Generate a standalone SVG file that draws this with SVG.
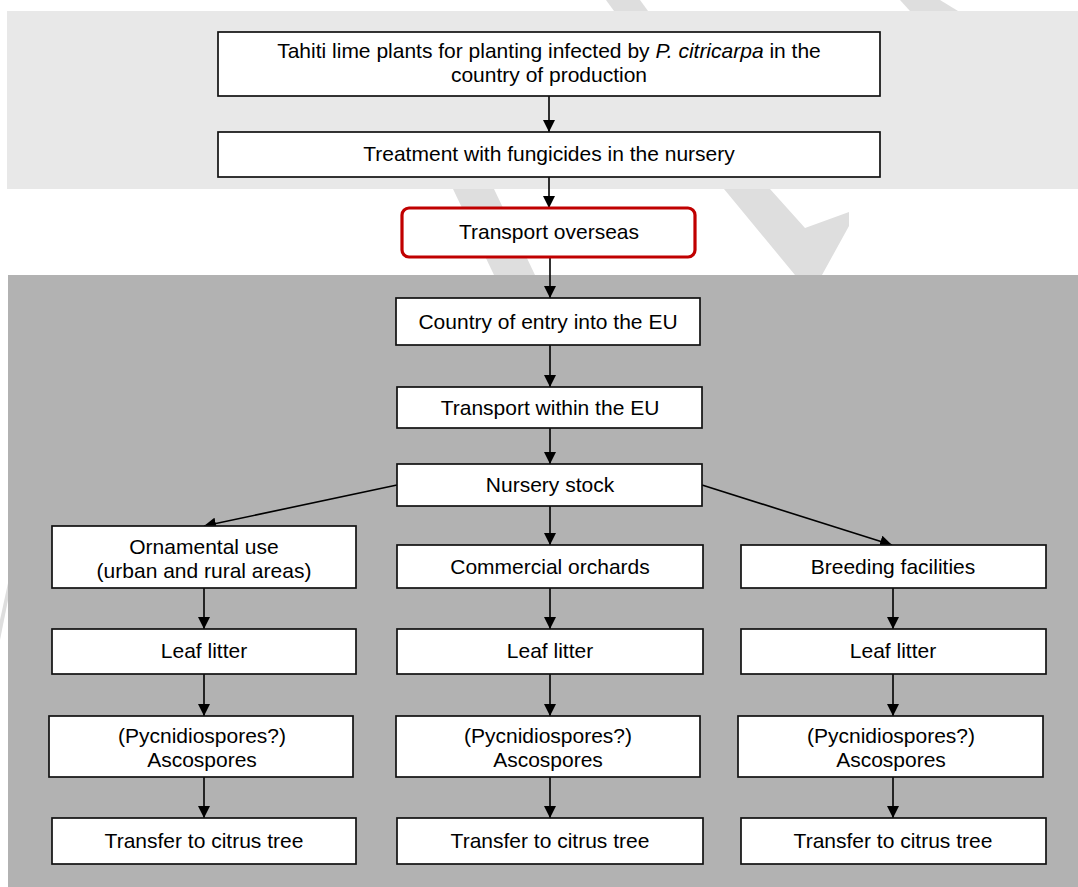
<svg xmlns="http://www.w3.org/2000/svg" width="1078" height="887" viewBox="0 0 1078 887">
<style>
  .box { fill: #ffffff; stroke: #111111; stroke-width: 1.7; }
  .red { fill: #ffffff; stroke: #c00000; stroke-width: 3.2; }
  .t { font-family: "Liberation Sans", Arial, sans-serif; font-size: 21px; fill: #000000; text-anchor: middle; }
  .c { stroke: #000000; stroke-width: 1.6; fill: none; marker-end: url(#ah); }
  .wm { fill: #dedede; }
</style>
<defs>
  <marker id="ah" markerUnits="userSpaceOnUse" markerWidth="12" markerHeight="12" refX="12" refY="6" orient="auto">
    <path d="M0,0 L12,6 L0,12 Z" fill="#000000"/>
  </marker>
</defs>
<rect x="0" y="0" width="1078" height="887" fill="#ffffff"/>
<g id="watermark">
  <polygon class="wm" points="606,0 640,0 648,11 614,11"/>
  <polygon class="wm" points="900,0 940,0 958,11 910,11"/>
  <polygon class="wm" points="453,189 494,189 535,275 494,275"/>
  <polygon class="wm" points="724,189 770,189 805,228 849,212 849,226 822,275 795,275"/>
  <polygon class="wm" points="0,620 8,583 8,600 0,640"/>
</g>
<g id="bands">
  <rect x="7" y="11" width="1071" height="178" fill="#e8e8e8"/>
  <rect x="8" y="275" width="1070" height="612" fill="#b2b2b2"/>
</g>
<g id="connectors">
  <line class="c" x1="549" y1="96" x2="549" y2="132"/>
  <line class="c" x1="549" y1="177" x2="549" y2="208"/>
  <line class="c" x1="550" y1="257" x2="550" y2="298"/>
  <line class="c" x1="550" y1="345" x2="550" y2="387"/>
  <line class="c" x1="550" y1="428" x2="550" y2="464"/>
  <line class="c" x1="397" y1="485" x2="204" y2="526"/>
  <line class="c" x1="550" y1="506" x2="550" y2="545"/>
  <line class="c" x1="702" y1="485" x2="892" y2="545"/>
  <line class="c" x1="204" y1="588" x2="204" y2="629"/>
  <line class="c" x1="550" y1="588" x2="550" y2="629"/>
  <line class="c" x1="893" y1="588" x2="893" y2="629"/>
  <line class="c" x1="204" y1="674" x2="204" y2="716"/>
  <line class="c" x1="550" y1="674" x2="550" y2="716"/>
  <line class="c" x1="893" y1="674" x2="893" y2="716"/>
  <line class="c" x1="204" y1="777" x2="204" y2="818"/>
  <line class="c" x1="550" y1="777" x2="550" y2="818"/>
  <line class="c" x1="893" y1="777" x2="893" y2="818"/>
</g>
<g id="n-infected">
  <rect class="box" x="218" y="32" width="662" height="64"/>
  <text class="t" x="549" y="58">Tahiti lime plants for planting infected by <tspan font-style="italic">P. citricarpa</tspan> in the</text>
  <text class="t" x="549" y="82">country of production</text>
</g>
<g id="n-treatment">
  <rect class="box" x="218" y="132" width="662" height="45"/>
  <text class="t" x="549" y="161">Treatment with fungicides in the nursery</text>
</g>
<g id="n-transport-overseas">
  <rect class="red" x="402" y="208" width="293" height="49" rx="7" ry="7"/>
  <text class="t" x="549" y="239">Transport overseas</text>
</g>
<g id="n-entry">
  <rect class="box" x="396" y="298" width="304" height="47"/>
  <text class="t" x="548" y="329">Country of entry into the EU</text>
</g>
<g id="n-transport-eu">
  <rect class="box" x="397" y="387" width="305" height="41"/>
  <text class="t" x="550" y="415">Transport within the EU</text>
</g>
<g id="n-nursery">
  <rect class="box" x="397" y="464" width="305" height="42"/>
  <text class="t" x="550" y="492">Nursery stock</text>
</g>
<g id="n-ornamental">
  <rect class="box" x="52" y="526" width="304" height="62"/>
  <text class="t" x="204" y="554">Ornamental use</text>
  <text class="t" x="204" y="578">(urban and rural areas)</text>
</g>
<g id="n-commercial">
  <rect class="box" x="397" y="545" width="306" height="43"/>
  <text class="t" x="550" y="574">Commercial orchards</text>
</g>
<g id="n-breeding">
  <rect class="box" x="741" y="545" width="305" height="43"/>
  <text class="t" x="893" y="574">Breeding facilities</text>
</g>
<g id="n-leaf1">
  <rect class="box" x="52" y="629" width="304" height="45"/>
  <text class="t" x="204" y="658">Leaf litter</text>
</g>
<g id="n-leaf2">
  <rect class="box" x="397" y="629" width="306" height="45"/>
  <text class="t" x="550" y="658">Leaf litter</text>
</g>
<g id="n-leaf3">
  <rect class="box" x="741" y="629" width="305" height="45"/>
  <text class="t" x="893" y="658">Leaf litter</text>
</g>
<g id="n-spores1">
  <rect class="box" x="49" y="716" width="304" height="61"/>
  <text class="t" x="202" y="743">(Pycnidiospores?)</text>
  <text class="t" x="202" y="767">Ascospores</text>
</g>
<g id="n-spores2">
  <rect class="box" x="396" y="716" width="304" height="61"/>
  <text class="t" x="548" y="743">(Pycnidiospores?)</text>
  <text class="t" x="548" y="767">Ascospores</text>
</g>
<g id="n-spores3">
  <rect class="box" x="738" y="716" width="305" height="61"/>
  <text class="t" x="891" y="743">(Pycnidiospores?)</text>
  <text class="t" x="891" y="767">Ascospores</text>
</g>
<g id="n-transfer1">
  <rect class="box" x="52" y="818" width="304" height="46"/>
  <text class="t" x="204" y="848">Transfer to citrus tree</text>
</g>
<g id="n-transfer2">
  <rect class="box" x="397" y="818" width="306" height="46"/>
  <text class="t" x="550" y="848">Transfer to citrus tree</text>
</g>
<g id="n-transfer3">
  <rect class="box" x="741" y="818" width="305" height="46"/>
  <text class="t" x="893" y="848">Transfer to citrus tree</text>
</g>
</svg>
